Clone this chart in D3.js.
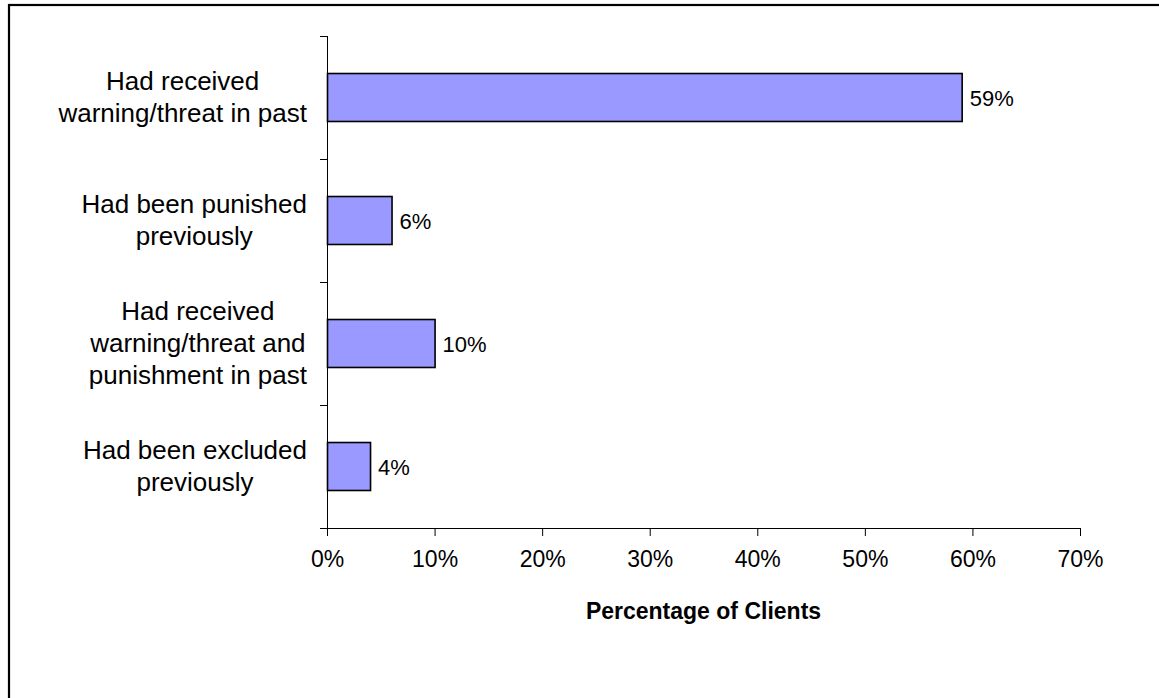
<!DOCTYPE html>
<html>
<head>
<meta charset="utf-8">
<script src="https://cdn.jsdelivr.net/npm/d3@7"></script>
<style>
  html, body { margin: 0; padding: 0; background: #fff; }
  svg { display: block; font-family: "Liberation Sans", Arial, sans-serif; }
</style>
</head>
<body>
<svg id="chart" width="1159" height="698"></svg>
<script>
// Category labels (one entry per line) and percentages of clients
const categories = [
  ["Had received", "warning/threat in past"],
  ["Had been punished", "previously"],
  ["Had received", "warning/threat and", "punishment in past"],
  ["Had been excluded", "previously"]
];
const values = [59, 6, 10, 4];
const xTicks = [0, 10, 20, 30, 40, 50, 60, 70];
const xTitle = "Percentage of Clients";

const svg = d3.select("#chart");

// Outer frame running off the right and bottom edges
svg.append("rect")
  .attr("x", 9).attr("y", 5)
  .attr("width", 1170).attr("height", 720)
  .attr("fill", "none").attr("stroke", "#000").attr("stroke-width", 2.2);

const plotLeft = 327, plotRight = 1080, plotTop = 36, plotBottom = 528;

const x = d3.scaleLinear().domain([0, 70]).range([plotLeft, plotRight]);
const keys = categories.map((c, i) => i);
const yBand = d3.scaleBand().domain(keys).range([plotTop, plotBottom]).padding(0);
const barH = yBand.bandwidth() * 0.39;

// X axis
const xAxis = svg.append("g")
  .attr("transform", `translate(0,${plotBottom})`)
  .call(d3.axisBottom(x).tickValues(xTicks).tickSize(8).tickPadding(15)
    .tickFormat(d => d + "%"));
xAxis.select(".domain").attr("stroke", "#000").attr("d", `M${plotLeft},0.5H${plotRight}`);
xAxis.selectAll(".tick line").attr("stroke", "#000");
xAxis.selectAll(".tick text")
  .attr("font-size", 23).attr("fill", "#000")
  .attr("font-family", "Liberation Sans, Arial, sans-serif");

// Y axis: tick marks at band boundaries
const yG = svg.append("g");
yG.append("line")
  .attr("x1", plotLeft + 0.5).attr("x2", plotLeft + 0.5)
  .attr("y1", plotTop).attr("y2", plotBottom)
  .attr("stroke", "#000");
const boundaries = keys.map(k => yBand(k)).concat([plotBottom]);
yG.selectAll("line.tk").data(boundaries).join("line")
  .attr("class", "tk")
  .attr("x1", plotLeft - 7).attr("x2", plotLeft)
  .attr("y1", d => Math.round(d) + 0.5).attr("y2", d => Math.round(d) + 0.5)
  .attr("stroke", "#000");

// Bars
svg.append("g").selectAll("rect").data(values).join("rect")
  .attr("x", x(0) + 0.5)
  .attr("y", (d, i) => yBand(i) + (yBand.bandwidth() - barH) / 2)
  .attr("width", d => x(d) - x(0))
  .attr("height", barH)
  .attr("fill", "#9999FF")
  .attr("stroke", "#000").attr("stroke-width", 1.6);

// Value labels
svg.append("g").selectAll("text").data(values).join("text")
  .attr("x", d => x(d) + 8)
  .attr("y", (d, i) => yBand(i) + yBand.bandwidth() / 2 + 8)
  .attr("font-size", 22).attr("fill", "#000")
  .text(d => d + "%");

// Category labels: block right-aligned near the axis, lines centred within it
const lineH = 32, labelFont = 26, labelRight = 307;
const labG = svg.append("g");
categories.forEach((lines, i) => {
  const g = labG.append("g");
  const texts = lines.map(l => g.append("text")
    .attr("font-size", labelFont).attr("fill", "#000")
    .attr("text-anchor", "middle").text(l));
  const widths = texts.map(t => t.node().getComputedTextLength());
  const maxW = d3.max(widths);
  const cx = labelRight - maxW / 2;
  const cy = yBand(i) + yBand.bandwidth() / 2 - 1;
  const first = cy - (lines.length - 1) * lineH / 2;
  texts.forEach((t, j) => {
    t.attr("x", cx).attr("y", first + j * lineH + labelFont * 0.36);
  });
});

// Axis title
svg.append("text")
  .attr("x", (plotLeft + plotRight) / 2).attr("y", 619)
  .attr("text-anchor", "middle")
  .attr("font-size", 23).attr("font-weight", "bold").attr("fill", "#000")
  .text(xTitle);
</script>
</body>
</html>
